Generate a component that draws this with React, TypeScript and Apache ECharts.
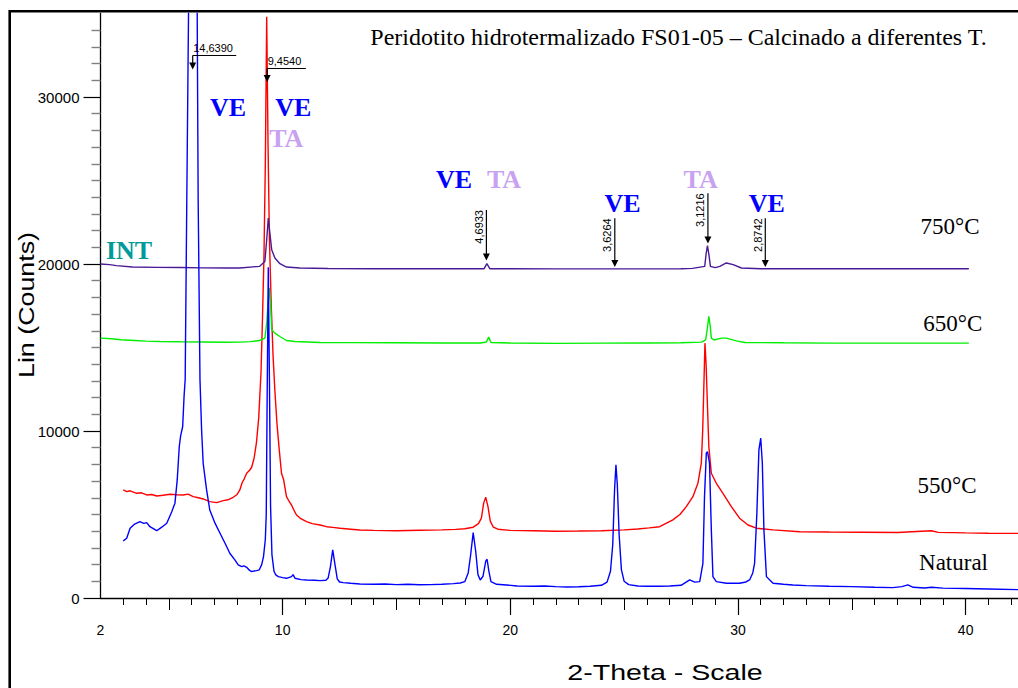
import React, { useEffect, useRef } from "react";
import * as echarts from "echarts";

// ---------- DATA ----------
const seriesNames = ["Natural", "550°C", "650°C", "750°C"];
const seriesColors = ["#0000FF", "#FF0000", "#00EE00", "#4A1A96"];

const natural: [number, number][] = [
  [3.0, 3420], [3.15, 3580], [3.3, 4180], [3.5, 4430], [3.73, 4570], [3.9, 4470], [4.03, 4510], [4.17, 4270],
  [4.47, 4030], [4.69, 4240], [4.91, 4480], [5.13, 5170], [5.27, 5680], [5.37, 7070], [5.46, 9070], [5.52, 9710],
  [5.61, 10270], [5.67, 12060], [5.72, 13100], [5.79, 23800], [5.88, 37000], [6.06, 80000], [6.24, 37000],
  [6.29, 23800], [6.37, 13070], [6.44, 10070], [6.51, 8070], [6.66, 6470], [6.8, 5270], [7.03, 4480], [7.25, 3880],
  [7.47, 3280], [7.68, 2680], [7.9, 2280], [8.05, 1980], [8.2, 1880], [8.3, 1920], [8.42, 1840], [8.55, 1650],
  [8.64, 1580], [8.75, 1620], [8.86, 1640], [8.97, 1680], [9.08, 2000], [9.16, 2480], [9.24, 3500], [9.28, 5000],
  [9.32, 12000], [9.37, 19800], [9.42, 13000], [9.47, 5500], [9.53, 2600], [9.62, 1600], [9.7, 1380], [9.81, 1280],
  [10.0, 1220], [10.17, 1180], [10.39, 1280], [10.46, 1400], [10.54, 1180], [10.8, 1100], [11.05, 1080],
  [11.4, 1060], [11.64, 1040], [11.9, 1060], [12.0, 1200], [12.1, 1880], [12.2, 2880], [12.3, 2000], [12.4, 1150],
  [12.5, 960], [12.66, 920], [13.0, 880], [13.39, 840], [14.0, 820], [14.5, 840], [15.0, 800], [15.5, 820],
  [16.0, 790], [16.5, 800], [17.0, 820], [17.5, 860], [17.8, 900], [18.0, 980], [18.15, 1500], [18.25, 2500],
  [18.37, 3910], [18.48, 2800], [18.58, 1400], [18.68, 1080], [18.8, 1300], [18.92, 2200], [18.98, 2320],
  [19.06, 1600], [19.15, 980], [19.4, 820], [19.83, 780], [20.3, 720], [21.0, 700], [21.5, 720], [22.0, 680],
  [22.5, 660], [23.0, 670], [23.5, 700], [24.0, 760], [24.25, 950], [24.4, 1600], [24.5, 3200], [24.58, 6500],
  [24.64, 7970], [24.7, 6800], [24.78, 3800], [24.88, 1700], [25.0, 1000], [25.2, 800], [25.6, 720], [26.0, 700],
  [26.5, 700], [27.0, 720], [27.5, 760], [27.88, 1080], [28.1, 950], [28.32, 980], [28.46, 2080], [28.53, 6070],
  [28.61, 8670], [28.66, 8770], [28.75, 8070], [28.83, 4080], [28.9, 1280], [29.05, 980], [29.49, 880],
  [30.07, 880], [30.35, 960], [30.51, 1080], [30.65, 1500], [30.73, 2080], [30.83, 5080], [30.92, 8870],
  [31.0, 9570], [31.07, 8070], [31.14, 4080], [31.25, 1280], [31.54, 880], [32.0, 820], [32.41, 780], [33.0, 740],
  [34.0, 700], [35.0, 680], [36.0, 640], [36.8, 620], [37.2, 680], [37.46, 790], [37.7, 640], [38.2, 600],
  [38.5, 640], [39.0, 590], [40.0, 570], [41.0, 540], [42.3, 500],
];

const calcined550: [number, number][] = [
  [3.0, 6470], [3.15, 6370], [3.3, 6420], [3.59, 6270], [3.8, 6300], [4.03, 6170], [4.25, 6200], [4.47, 6110],
  [4.75, 6150], [5.05, 6210], [5.35, 6180], [5.63, 6170], [5.85, 6220], [6.07, 6070], [6.3, 6000], [6.51, 5930],
  [6.8, 5770], [7.1, 5710], [7.39, 5830], [7.6, 5880], [7.83, 6030], [8.0, 6200], [8.12, 6470], [8.22, 6900],
  [8.32, 7150], [8.42, 7470], [8.55, 7650], [8.64, 7830], [8.75, 8400], [8.85, 9300], [8.95, 10800], [9.05, 13500],
  [9.12, 17000], [9.18, 20450], [9.24, 26000], [9.3, 34800], [9.36, 27000], [9.42, 21500], [9.5, 17500],
  [9.58, 14500], [9.66, 12400], [9.75, 10460], [9.85, 8900], [9.95, 7470], [10.04, 7100], [10.17, 6070],
  [10.3, 5750], [10.39, 5570], [10.5, 5250], [10.61, 4970], [10.8, 4750], [11.05, 4570], [11.3, 4450],
  [11.64, 4370], [11.93, 4270], [12.2, 4230], [12.52, 4180], [13.0, 4120], [13.39, 4070], [14.0, 4050],
  [15.0, 4030], [16.0, 4060], [17.0, 4080], [17.6, 4110], [18.0, 4150], [18.37, 4240], [18.6, 4450], [18.73, 4780],
  [18.83, 5680], [18.92, 6040], [19.02, 5470], [19.12, 4600], [19.25, 4250], [19.46, 4120], [20.0, 4050],
  [21.0, 4030], [22.0, 4000], [23.0, 4010], [24.0, 4030], [25.0, 4080], [25.6, 4130], [26.1, 4200], [26.56, 4270],
  [27.14, 4680], [27.45, 5000], [27.73, 5470], [28.02, 6070], [28.24, 6870], [28.39, 8070], [28.45, 10000],
  [28.49, 12060], [28.55, 15260], [28.6, 14000], [28.66, 11500], [28.72, 9070], [28.83, 7470], [29.05, 6870],
  [29.34, 6270], [29.71, 5470], [30.07, 4780], [30.44, 4370], [30.81, 4180], [31.54, 4080], [32.71, 3970],
  [34.0, 3950], [35.5, 3940], [37.0, 3920], [38.49, 4030], [38.8, 3930], [40.0, 3900], [41.0, 3880], [42.3, 3870],
];

const calcined650: [number, number][] = [
  [2.0, 15560], [2.5, 15520], [2.9, 15460], [3.5, 15420], [4.0, 15380], [4.6, 15360], [5.5, 15340], [6.5, 15330],
  [7.5, 15310], [8.12, 15320], [8.6, 15350], [8.99, 15420], [9.22, 15560], [9.3, 16460], [9.37, 17860],
  [9.41, 18560], [9.47, 17660], [9.52, 16060], [9.66, 15860], [9.88, 15660], [10.17, 15420], [10.54, 15360],
  [11.64, 15300], [13.0, 15290], [15.0, 15280], [17.0, 15270], [18.7, 15270], [18.95, 15330], [19.05, 15620],
  [19.15, 15300], [20.0, 15270], [22.0, 15250], [24.0, 15260], [26.0, 15270], [27.5, 15280], [28.4, 15320],
  [28.58, 15460], [28.66, 16200], [28.72, 16860], [28.78, 16300], [28.83, 15560], [28.95, 15450], [29.27, 15560],
  [29.49, 15560], [29.93, 15400], [30.3, 15300], [32.0, 15280], [34.0, 15260], [36.0, 15260], [38.0, 15260],
  [40.14, 15260],
];

const calcined750: [number, number][] = [
  [2.0, 20000], [2.4, 19960], [2.7, 19900], [3.4, 19820], [4.5, 19800], [5.5, 19790], [6.5, 19770], [7.5, 19760],
  [8.12, 19760], [8.99, 19860], [9.22, 20150], [9.3, 21450], [9.37, 22750], [9.44, 21850], [9.52, 20850],
  [9.66, 20360], [9.88, 20020], [10.17, 19820], [10.76, 19760], [12.0, 19730], [14.0, 19720], [16.0, 19720],
  [18.0, 19720], [18.85, 19720], [18.97, 20020], [19.1, 19720], [20.0, 19720], [22.0, 19710], [24.0, 19710],
  [26.0, 19710], [27.5, 19720], [28.0, 19740], [28.54, 19860], [28.6, 20600], [28.66, 21100], [28.73, 20500],
  [28.79, 19860], [29.0, 19780], [29.2, 19860], [29.49, 20060], [29.79, 19960], [30.15, 19760], [31.0, 19720],
  [33.0, 19720], [35.0, 19720], [37.0, 19720], [40.14, 19720],
];

const seriesData = [natural, calcined550, calcined650, calcined750];

const xTickLabels = [2, 10, 20, 30, 40];
const xMinorTicks = [3, 4, 6, 7, 8, 9, 11, 12, 13, 14, 16, 17, 18, 19, 21, 22, 23, 24, 26, 27, 28, 29, 31, 32, 33, 34, 36, 37, 38, 39, 41, 42];
const xMidTicks = [5, 15, 25, 35];
const xMajorTicks = [10, 20, 30, 40];
const yTickLabels = [0, 10000, 20000, 30000];
const yMinorTicks = [
  1000, 2000, 3000, 4000, 5000, 6000, 7000, 8000, 9000, 11000, 12000, 13000, 14000, 15000, 16000, 17000, 18000,
  19000, 21000, 22000, 23000, 24000, 25000, 26000, 27000, 28000, 29000, 31000, 32000, 33000, 34000,
];

const titleText = "Peridotito hidrotermalizado FS01-05 – Calcinado a diferentes T.";
const xAxisTitle = "2-Theta - Scale";
const yAxisTitle = "Lin (Counts)";

// d-spacing peak markers (label, 2-theta)
const peakMarkers: { label: string; theta: number }[] = [
  { label: "14,6390", theta: 6.05 },
  { label: "9,4540", theta: 9.32 },
  { label: "4,6933", theta: 18.95 },
  { label: "3,6264", theta: 24.59 },
  { label: "3,1216", theta: 28.68 },
  { label: "2,8742", theta: 31.2 },
];

// phase labels
const phaseLabels = ["VE", "VE", "TA", "VE", "TA", "VE", "TA", "VE", "INT"];

// ---------- LAYOUT / STYLE ----------
const W = 1018;
const H = 688;
const phaseColors: Record<string, string> = { VE: "#0000FF", TA: "#C8A2F0", INT: "#009A9A" };
const phasePos = [
  [228, 107], [293.3, 107], [286.3, 138.7], [454, 179.5], [504, 179.5], [622.5, 203.3], [700.7, 179.5],
  [766.7, 203.3], [129, 250.8],
];
const seriesLabelPos = [
  [953.5, 562], [947, 485], [952.7, 323.3], [950, 226.5],
];
const markerGeom = [
  { kind: "h", top: 55.5, tip: 69.5, len: 43.5, textY: 47.5 },
  { kind: "h", top: 68.5, tip: 82, len: 38.7, textY: 61 },
  { kind: "v", top: 210, tip: 260.5 },
  { kind: "v", top: 218.3, tip: 267 },
  { kind: "v", top: 193.3, tip: 243.5 },
  { kind: "v", top: 218.3, tip: 267 },
];

const SANS = "'Liberation Sans', Arial, sans-serif";
const SERIF = "'Liberation Serif', 'Times New Roman', serif";

export default function App() {
  const ref = useRef<HTMLDivElement>(null);

  useEffect(() => {
    if (!ref.current) return;
    const chart = echarts.init(ref.current, undefined, { renderer: "svg", width: W, height: H });

    const xCommon = {
      type: "value" as const,
      min: 2,
      max: 42.3,
      gridIndex: 0,
      position: "bottom" as const,
      splitLine: { show: false },
      axisLine: { show: false, onZero: false },
    };
    const yCommon = {
      type: "value" as const,
      min: 0,
      max: 35000,
      gridIndex: 0,
      position: "left" as const,
      splitLine: { show: false },
      axisLine: { show: false, onZero: false },
    };

    const option: any = {
      animation: false,
      backgroundColor: "#ffffff",
      grid: {
        left: 100.5,
        top: 13.5,
        right: 0,
        bottom: 90,
        containLabel: false,
        outerBoundsMode: "none",
      },
      xAxis: [
        {
          ...xCommon,
          axisLine: { show: true, onZero: false, lineStyle: { color: "#000", width: 1.3 } },
          axisTick: { show: true, customValues: xMinorTicks, length: 7, lineStyle: { color: "#000", width: 1 } },
          axisLabel: {
            show: true,
            customValues: xTickLabels,
            margin: 25,
            fontSize: 14,
            color: "#000",
            fontFamily: SANS,
            formatter: (v: number) => String(v),
          },
        },
        {
          ...xCommon,
          axisTick: { show: true, customValues: xMidTicks, length: 12, lineStyle: { color: "#000", width: 1 } },
          axisLabel: { show: false },
        },
        {
          ...xCommon,
          axisTick: { show: true, customValues: xMajorTicks, length: 17, lineStyle: { color: "#000", width: 1.2 } },
          axisLabel: { show: false },
        },
      ],
      yAxis: [
        {
          ...yCommon,
          axisLine: { show: true, onZero: false, lineStyle: { color: "#000", width: 1.3 } },
          axisTick: { show: true, customValues: yTickLabels, length: 17, lineStyle: { color: "#000", width: 1.2 } },
          axisLabel: {
            show: true,
            customValues: yTickLabels,
            margin: 21,
            fontSize: 15,
            color: "#000",
            fontFamily: SANS,
            formatter: (v: number) => String(v),
          },
        },
        {
          ...yCommon,
          axisTick: { show: true, customValues: yMinorTicks, length: 9, lineStyle: { color: "#808080", width: 1.4 } },
          axisLabel: { show: false },
        },
      ],
      series: seriesData.map((d, i) => ({
        type: "line",
        name: seriesNames[i],
        data: d,
        xAxisIndex: 0,
        yAxisIndex: 0,
        showSymbol: false,
        symbol: "none",
        clip: true,
        lineStyle: { color: seriesColors[i], width: 1.4 },
        z: 2 + (i === 0 ? 1 : 0),
      })),
    };
    chart.setOption(option);

    const gfx: any[] = [];
    gfx.push({
      type: "rect",
      shape: { x: 9.7, y: 11.2, width: 1200, height: 1000 },
      style: { fill: "none", stroke: "#000", lineWidth: 2.6 },
      silent: true,
      z: 100,
    });
    gfx.push({
      type: "text",
      x: 678.5,
      y: 37,
      style: { text: titleText, font: `24px ${SERIF}`, fill: "#000", textAlign: "center", textVerticalAlign: "middle" },
      z: 100,
    });
    gfx.push({
      type: "text",
      x: 665,
      y: 672,
      scaleX: 1.3,
      style: { text: xAxisTitle, font: `22px ${SANS}`, fill: "#000", textAlign: "center", textVerticalAlign: "middle" },
      z: 100,
    });
    gfx.push({
      type: "text",
      x: 26,
      y: 305,
      rotation: Math.PI / 2,
      scaleX: 1.22,
      style: { text: yAxisTitle, font: `22px ${SANS}`, fill: "#000", textAlign: "center", textVerticalAlign: "middle" },
      z: 100,
    });
    seriesNames.forEach((n, i) => {
      gfx.push({
        type: "text",
        x: seriesLabelPos[i][0],
        y: seriesLabelPos[i][1],
        style: { text: n, font: `23px ${SERIF}`, fill: "#000", textAlign: "center", textVerticalAlign: "middle" },
        z: 100,
      });
    });
    phaseLabels.forEach((p, i) => {
      gfx.push({
        type: "text",
        x: phasePos[i][0],
        y: phasePos[i][1],
        style: {
          text: p,
          font: `bold 26px ${SERIF}`,
          fill: phaseColors[p],
          textAlign: "center",
          textVerticalAlign: "middle",
        },
        z: 100,
      });
    });
    peakMarkers.forEach((m, i) => {
      const g = markerGeom[i] as any;
      const X = chart.convertToPixel({ xAxisIndex: 0 }, m.theta) as number;
      const head = 7;
      gfx.push({
        type: "line",
        shape: { x1: X, y1: g.top, x2: X, y2: g.tip - head + 1 },
        style: { stroke: "#000", lineWidth: 1.2 },
        z: 100,
      });
      gfx.push({
        type: "polygon",
        shape: { points: [[X - 3.5, g.tip - head], [X + 3.5, g.tip - head], [X, g.tip]] },
        style: { fill: "#000" },
        z: 100,
      });
      if (g.kind === "h") {
        gfx.push({
          type: "line",
          shape: { x1: X, y1: g.top, x2: X + g.len, y2: g.top },
          style: { stroke: "#000", lineWidth: 1.2 },
          z: 100,
        });
        gfx.push({
          type: "text",
          x: X + 0.5,
          y: g.textY,
          style: { text: m.label, font: `11px ${SANS}`, fill: "#000", textAlign: "left", textVerticalAlign: "middle" },
          z: 100,
        });
      } else {
        gfx.push({
          type: "text",
          x: X - 2,
          y: g.top,
          rotation: Math.PI / 2,
          style: { text: m.label, font: `11px ${SANS}`, fill: "#000", textAlign: "right", textVerticalAlign: "bottom" },
          z: 100,
        });
      }
    });
    chart.setOption({ graphic: gfx });

    return () => chart.dispose();
  }, []);

  return (
    <div
      ref={ref}
      style={{ position: "fixed", left: 0, top: 0, width: W, height: H, background: "#fff" }}
    />
  );
}
